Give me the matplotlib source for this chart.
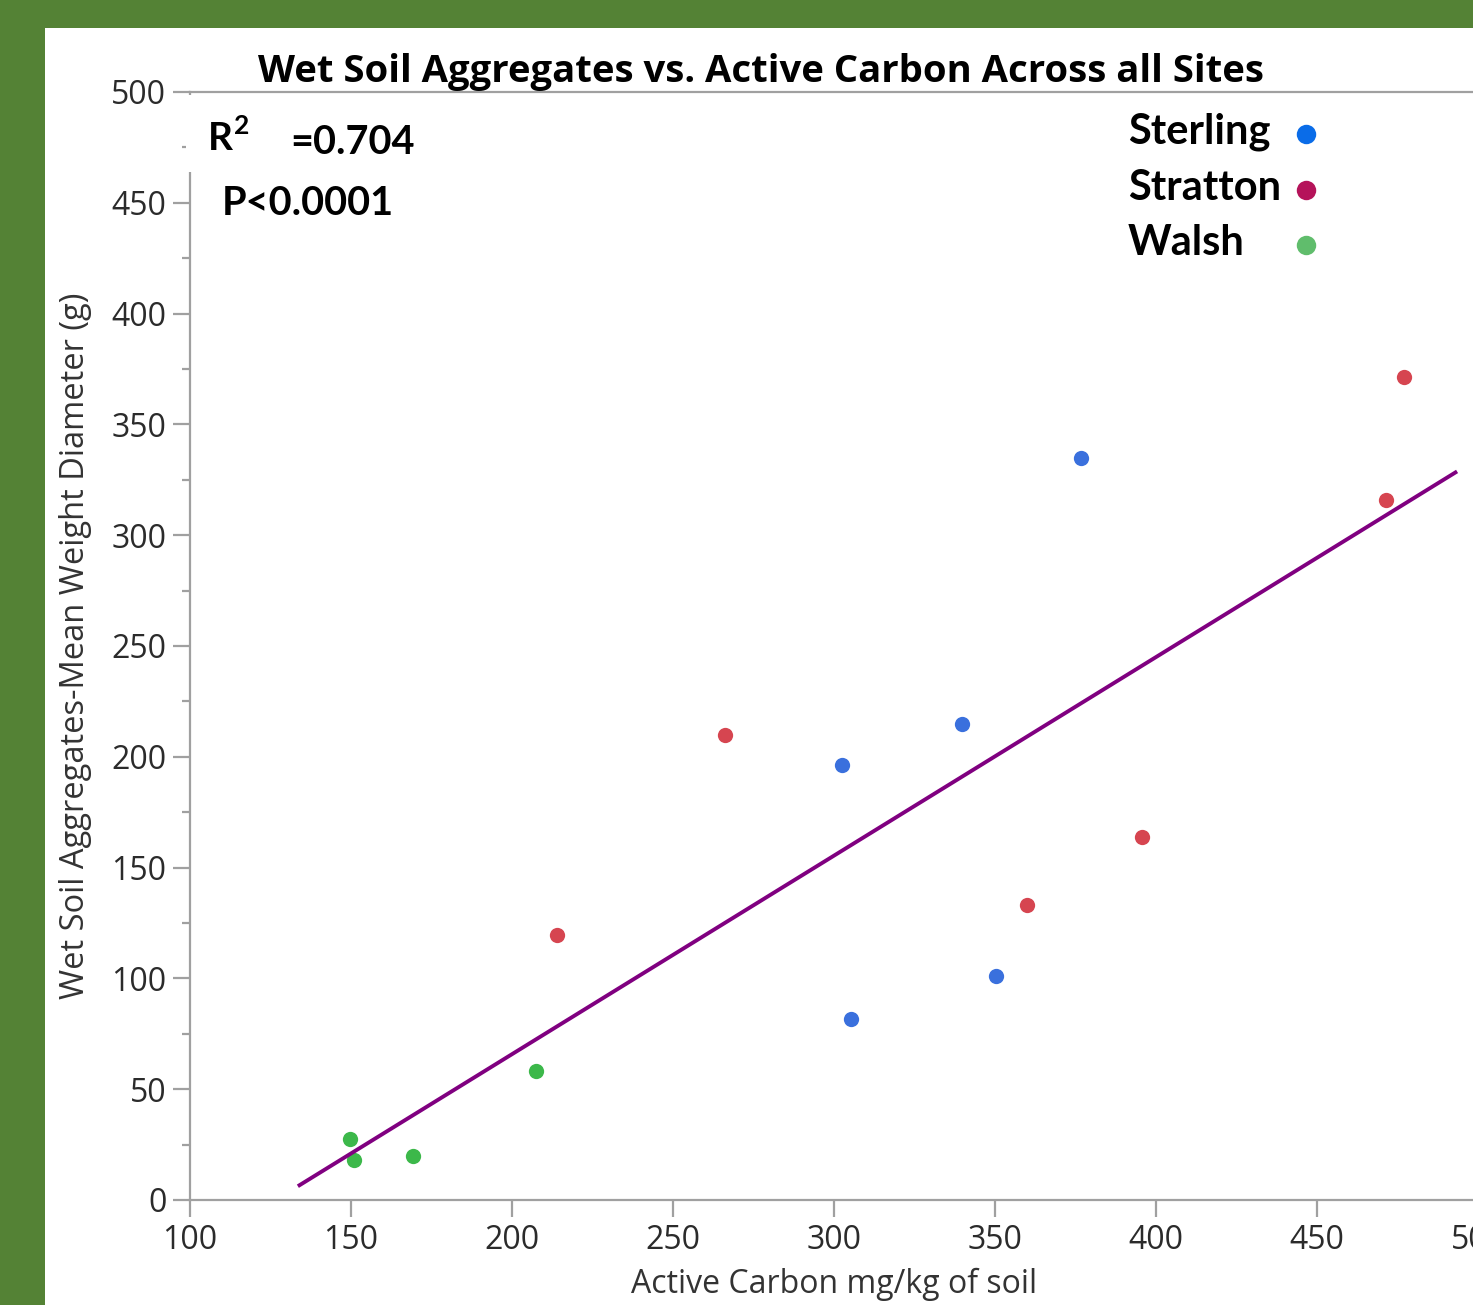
import matplotlib.pyplot as plt
from matplotlib.patches import Rectangle
import numpy as np

# datos
sterling_x = [302.5, 305.3, 339.8, 350.3, 376.7]
sterling_y = [196.3, 81.7, 214.8, 101.0, 334.8]
stratton_x = [214.0, 266.1, 359.9, 395.7, 471.4, 477.0]
stratton_y = [119.6, 209.8, 133.1, 163.8, 315.9, 371.4]
walsh_x = [149.7, 150.9, 169.3, 207.5]
walsh_y = [27.5, 18.0, 19.9, 58.2]

# recta de regresion
fit_slope = 0.896
fit_intercept = -113.4
fit_range = [133.5, 493.5]

sites = ["Sterling", "Stratton", "Walsh"]
legend_colors = ["#0a6ce8", "#b5135a", "#60bd6c"]
point_colors = ["#3a70dd", "#d64550", "#3cb84a"]

W, H = 1473, 1305
fig = plt.figure(figsize=(W / 100, H / 100), dpi=100, facecolor="#548235")

def fx(px):
    return px / W

def fy(py):
    return 1 - py / H

# fondo blanco
fig.patches.append(Rectangle((fx(45), 0), 1 - fx(45), fy(28), transform=fig.transFigure,
                             facecolor="white", edgecolor="none", zorder=-1))

ax = fig.add_axes([fx(190), fy(1200), (1478 - 190) / W, (1200 - 92) / H])
ax.set_facecolor("white")

ax.plot(sterling_x, sterling_y, "o", color=point_colors[0], markersize=11, markeredgewidth=0)
ax.plot(stratton_x, stratton_y, "o", color=point_colors[1], markersize=11, markeredgewidth=0)
ax.plot(walsh_x, walsh_y, "o", color=point_colors[2], markersize=11, markeredgewidth=0)

xs = np.array(fit_range)
ax.plot(xs, fit_slope * xs + fit_intercept, color="#800080", lw=2.8, solid_capstyle="butt")

ax.set_xlim(100, 500)
ax.set_ylim(0, 500)
ax.set_xticks(np.arange(100, 501, 50))
ax.set_yticks(np.arange(0, 501, 50))
ax.set_yticks(np.arange(25, 500, 50), minor=True)

for s in ["left", "bottom", "top"]:
    ax.spines[s].set_color("#a0a0a0")
    ax.spines[s].set_linewidth(1.6)
ax.spines["right"].set_visible(False)

ax.tick_params(axis="both", which="major", length=12, width=1.6, color="#a0a0a0",
               labelsize=23, labelcolor="#2b2b2b", pad=5)
ax.tick_params(axis="y", which="minor", length=6, width=1.6, color="#a0a0a0")
for lab in ax.get_xticklabels() + ax.get_yticklabels():
    lab.set_family("Open Sans")

ax.set_xlabel("Active Carbon mg/kg of soil", fontsize=23, family="Open Sans", color="#333333", labelpad=8)
ax.set_ylabel("Wet Soil Aggregates-Mean Weight Diameter (g)", fontsize=23.5, family="Open Sans",
              color="#333333", labelpad=14)

fig.text(fx(761), fy(82), "Wet Soil Aggregates vs. Active Carbon Across all Sites",
         ha="center", va="baseline", fontsize=27.5, fontweight="bold", family="Open Sans", color="black")

# tapa el eje izquierdo detras del texto R2
fig.patches.append(Rectangle((fx(186), fy(172)), fx(420) - fx(186), fy(95) - fy(172),
                             transform=fig.transFigure, facecolor="white", edgecolor="none", zorder=1))

fig.text(fx(208), fy(150), "R", ha="left", va="baseline", fontsize=28, fontweight="bold",
         family="Lato", color="black", zorder=2)
fig.text(fx(234), fy(134), "2", ha="left", va="baseline", fontsize=19, fontweight="bold",
         family="Lato", color="black", zorder=2)
fig.text(fx(290), fy(154), "=0.704", ha="left", va="baseline", fontsize=28.5, fontweight="bold",
         family="Lato", color="black", zorder=2)
fig.text(fx(222), fy(215), "P<0.0001", ha="left", va="baseline", fontsize=28.5, fontweight="bold",
         family="Lato", color="black", zorder=2)

legend_y = [132, 188, 243]
for name, col, ly in zip(sites, legend_colors, legend_y):
    fig.text(fx(1128), fy(ly), name, ha="left", va="center", fontsize=30, fontweight="bold",
             family="Lato", color="black")
    fig.add_artist(plt.Line2D([fx(1306)], [fy(ly + 2)], marker="o", markersize=14,
                              color=col, markeredgewidth=0, transform=fig.transFigure))

plt.savefig("out.png", dpi=100)
